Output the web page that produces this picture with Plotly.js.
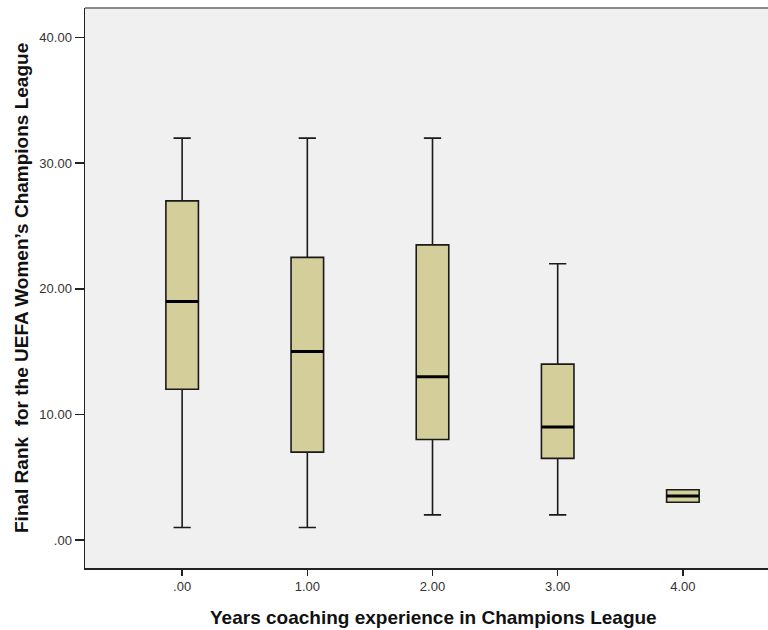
<!DOCTYPE html>
<html>
<head>
<meta charset="utf-8">
<script src="https://cdn.plot.ly/plotly-3.0.1.min.js"></script>
<style>html,body{margin:0;padding:0;background:#fff;}#chart{width:768px;height:630px;}</style>
</head>
<body>
<div id="chart"></div>
<script>
// Data
const categories = [0, 1, 2, 3, 4];
const categoryLabels = [".00", "1.00", "2.00", "3.00", "4.00"];
const lowerWhisker = [1, 1, 2, 2, 3];
const q1 = [12, 7, 8, 6.5, 3];
const median = [19, 15, 13, 9, 3.5];
const q3 = [27, 22.5, 23.5, 14, 4];
const upperWhisker = [32, 32, 32, 22, 4];
const yTickVals = [0, 10, 20, 30, 40];
const yTickText = [".00", "10.00", "20.00", "30.00", "40.00"];

const boxWidth = 0.26;

const trace = {
  type: "box",
  x: categories,
  q1: q1,
  median: median,
  q3: q3,
  lowerfence: lowerWhisker,
  upperfence: upperWhisker,
  width: boxWidth,
  whiskerwidth: 0.53,
  fillcolor: "#D3CE9A",
  line: { color: "#1a1a1a", width: 1.6 },
  boxpoints: false,
  hoverinfo: "skip",
  showlegend: false
};

const shapes = categories.map((c, i) => ({
  type: "line", xref: "x", yref: "y",
  x0: c - boxWidth / 2, x1: c + boxWidth / 2,
  y0: median[i], y1: median[i],
  line: { color: "#000", width: 3 }
}));
// top frame line
shapes.push({type: "line", xref: "paper", yref: "paper", x0: 0, x1: 1, y0: 1, y1: 1, line: {color: "#8a8a8a", width: 2}});

const titleFont = { size: 19, color: "#111", family: "Liberation Sans, Arial, sans-serif", weight: "bold" };

const layout = {
  width: 768, height: 630,
  margin: { l: 85, r: 0, t: 8, b: 62 },
  paper_bgcolor: "#ffffff",
  plot_bgcolor: "#F0F0F0",
  font: { family: "Liberation Sans, Arial, sans-serif", color: "#222" },
  xaxis: {
    range: [-0.776, 4.68],
    tickvals: categories, ticktext: categoryLabels,
    ticks: "outside", ticklen: 6, tickwidth: 1.5, tickcolor: "#222",
    showgrid: false, zeroline: false,
    showline: true, linecolor: "#222", linewidth: 1.5,
    tickfont: { size: 13, color: "#333" }
  },
  yaxis: {
    range: [-2.23, 42.36],
    tickvals: yTickVals, ticktext: yTickText,
    ticks: "outside", ticklen: 9, tickwidth: 1.5, tickcolor: "#222",
    showgrid: false, zeroline: false,
    showline: true, linecolor: "#222", linewidth: 1.5,
    tickfont: { size: 13, color: "#333" }
  },
  shapes: shapes,
  annotations: [
    {
      text: "Years coaching experience in Champions League",
      xref: "paper", yref: "paper",
      x: (433 - 85) / 683, y: -(617 - 568) / 560,
      xanchor: "center", yanchor: "middle", showarrow: false,
      font: titleFont
    },
    {
      text: "Final Rank\u00a0 for the UEFA Women’s Champions League",
      xref: "paper", yref: "paper",
      x: -(85 - 21) / 683, y: (568 - 288) / 560,
      xanchor: "center", yanchor: "middle", showarrow: false, textangle: -90,
      font: titleFont
    }
  ]
};

Plotly.newPlot("chart", [trace], layout, { displayModeBar: false, staticPlot: true });
</script>
</body>
</html>
